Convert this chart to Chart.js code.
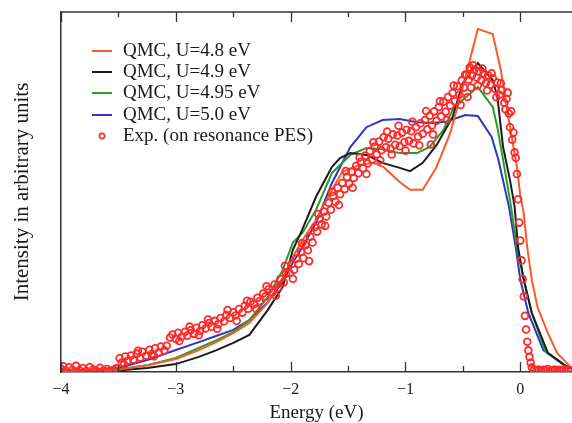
<!DOCTYPE html>
<html><head><meta charset="utf-8">
<script src="https://cdn.jsdelivr.net/npm/chart.js@4/dist/chart.umd.min.js"></script>
<style>html,body{margin:0;padding:0;background:#fff;}canvas{display:block;}</style>
</head><body>
<canvas id="c" width="572" height="423"></canvas>
<script>
// ---- data (energy in eV, intensity in arbitrary units) ----
const seriesLabels = ['QMC, U=4.8 eV','QMC, U=4.9 eV','QMC, U=4.95 eV','QMC, U=5.0 eV','Exp. (on resonance PES)'];
const xTickValues = [-4,-3,-2,-1,0];
const xMinorTicks = [-4,-3.5,-3,-2.5,-2,-1.5,-1,-0.5,0];

const u48Energy = [-4.0,-3.5,-3.25,-3.0,-2.8,-2.65,-2.5,-2.36,-2.2,-2.07,-1.98,-1.9,-1.78,-1.64,-1.55,-1.40,-1.28,-1.19,-1.05,-0.96,-0.85,-0.73,-0.61,-0.5,-0.37,-0.24,-0.17,-0.10,-0.03,0.0,0.03,0.06,0.10,0.15,0.24,0.32,0.45];
const u48Int    = [0.3,0.6,1.9,3.6,6.1,8.3,10.8,13.6,19.2,26.1,32,36.5,42.2,50.6,55.6,57.5,58.1,56.9,52.8,50.6,50.6,56.9,66.4,79.2,95.3,93.9,83.9,70,57,49,44,34.7,25.6,18,10.8,5.3,1.0];

const u49Energy = [-4.0,-3.5,-3.25,-3.0,-2.8,-2.65,-2.5,-2.36,-2.2,-2.07,-1.98,-1.9,-1.78,-1.64,-1.57,-1.48,-1.34,-1.2,-1.05,-0.96,-0.85,-0.73,-0.59,-0.5,-0.37,-0.24,-0.2,-0.15,-0.09,-0.05,-0.02,0.03,0.10,0.24,0.41,0.45];
const u49Int    = [0.3,0.4,1.1,2.2,4.2,6.0,8.1,10.3,17.2,23.6,34,39.5,48.6,57,59.4,60.8,60.3,58.1,56.7,55.8,58.1,63,70.8,80.3,85.8,81.1,76.4,62.5,53.3,46,34.7,25.6,16.4,5.3,1.4,1.0];

const u495Energy = [-4.0,-3.5,-3.25,-3.0,-2.8,-2.65,-2.5,-2.36,-2.2,-2.07,-1.98,-1.9,-1.78,-1.64,-1.48,-1.34,-1.2,-1.05,-0.9,-0.79,-0.67,-0.59,-0.5,-0.37,-0.24,-0.2,-0.15,-0.09,-0.03,0.03,0.10,0.22,0.41,0.45];
const u495Int    = [0.3,0.8,1.9,3.9,6.7,8.8,11.1,14.4,20.8,28.3,36,38.5,45,55.3,60.3,62.2,61.9,60.8,60.8,62.5,67.2,72.8,75.6,79.2,73.6,68,58.9,47.8,34.7,25.6,16.4,5.6,1.4,1.0];

const u50Energy = [-4.0,-3.5,-3.25,-3.0,-2.8,-2.65,-2.5,-2.36,-2.2,-2.07,-1.98,-1.9,-1.78,-1.64,-1.48,-1.34,-1.2,-1.05,-0.9,-0.76,-0.64,-0.48,-0.37,-0.25,-0.19,-0.1,-0.04,0.0,0.07,0.2,0.38,0.45];
const u50Int    = [0.3,1.1,3.3,6.1,8.3,10.0,11.7,14.4,19.4,25,30.5,34.5,41.4,52.5,62.5,68,70,70.3,69.4,69.2,69.6,71.4,71.1,65.3,58.9,46,34.7,25.6,16.4,6.1,1.9,1.2];

const expEnergy = [
-4.00,-3.98,-3.96,-3.93,-3.90,-3.87,-3.84,-3.81,-3.78,-3.75,-3.72,-3.69,-3.66,-3.63,-3.60,-3.57,-3.54,-3.52,
-3.49,-3.47,-3.44,-3.42,-3.39,-3.37,-3.34,-3.31,-3.29,-3.26,-3.23,-3.21,-3.18,-3.15,-3.13,-3.10,-3.08,
-3.05,-3.03,-3.00,-2.98,-2.95,-2.92,-2.90,-2.87,-2.84,-2.82,-2.79,-2.77,-2.74,-2.71,-2.69,-2.66,-2.63,-2.61,-2.58,-2.56,-2.53,-2.50,-2.48,-2.45,-2.42,-2.40,-2.37,-2.35,-2.32,-2.29,-2.27,-2.24,-2.22,-2.19,-2.16,-2.14,-2.11,-2.09,-2.06,-2.04,
-2.01,-1.99,-1.97,-1.95,-1.93,-1.91,-1.89,-1.87,-1.85,-1.83,-1.81,-1.79,
-1.77,-1.75,-1.73,-1.71,-1.69,-1.67,-1.65,-1.63,-1.61,-1.59,-1.57,-1.55,-1.53,-1.51,-1.49,-1.47,-1.45,-1.43,-1.41,-1.39,-1.37,-1.35,-1.33,-1.31,-1.29,-1.27,-1.25,-1.23,-1.21,-1.19,-1.17,-1.15,-1.13,-1.11,-1.09,-1.07,-1.05,-1.03,-1.01,-0.99,-0.97,-0.95,-0.93,-0.91,-0.89,-0.87,-0.85,-0.83,-0.81,-0.79,-0.78,-0.77,-0.75,-0.73,-0.71,-0.69,-0.67,-0.65,-0.63,
-0.61,-0.59,-0.57,-0.55,-0.53,-0.51,-0.49,-0.47,-0.46,-0.45,-0.44,-0.42,-0.40,-0.38,-0.36,-0.34,-0.32,-0.30,-0.28,-0.26,-0.24,-0.22,-0.20,-0.18,-0.16,-0.14,-0.12,-0.10,-0.08,-0.07,-0.05,-0.04,-0.03,-0.02,-0.01,
0.00,0.01,0.02,0.03,0.04,0.05,0.06,0.07,0.08,0.09,0.10,0.12,0.14,0.16,0.18,0.20,0.22,0.24,0.26,0.28,0.30,0.32,0.34,0.36,0.38,0.40,0.42,0.44,
-3.45,-3.33,-3.19,-2.97,-2.88,-2.80,-2.72,-2.64,-2.55,-2.47,-2.38,-2.30,-2.21,-2.13,-2.05,-1.98,-1.90,-1.84,-1.76,-1.70,-1.64,-1.58,-1.52,-1.46,-1.40,-1.34,-1.28,-1.22,-1.16,-1.12,-1.06,-1.00,-0.94,-0.88,-0.82,-0.76,-0.70,-0.64,-0.58,-0.52,-0.48,-0.43,-0.41,-0.37,-0.33,-0.29,-0.25,-0.21,-0.17,-0.13,-0.11,-0.09,-0.06];
const expInt = [
0.9,1.6,0.4,1.3,0.6,1.7,0.5,1.1,0.3,1.4,0.7,0.3,1.2,0.4,0.8,0.3,0.6,1.0,
3.8,2.6,4.3,3.1,4.6,3.4,5.1,4.0,5.6,4.5,6.2,5.0,6.6,5.4,7.1,6.0,7.3,
9.6,10.4,9.2,10.9,9.8,11.2,10.1,11.6,10.6,12.3,11.4,13.0,12.1,13.6,12.6,14.2,13.3,15.0,14.1,15.8,15.0,16.6,15.7,17.5,16.5,18.4,17.6,19.5,18.8,20.6,19.7,21.8,21.0,23.0,22.1,24.3,23.4,25.8,24.9,27.3,
27.5,30.0,28.4,31.5,30.0,33.4,31.6,35.3,33.8,37.6,36.0,40.2,
39.0,42.5,41.0,44.6,43.2,47.0,45.1,48.9,47.3,51.2,49.4,52.5,50.8,54.2,52.3,55.6,53.9,57.3,55.2,58.4,56.6,60.1,57.9,61.4,59.0,62.6,60.5,64.0,61.6,65.2,62.4,64.8,62.0,66.0,63.1,65.7,62.7,66.5,63.8,67.3,64.2,66.9,63.5,68.0,65.4,69.1,66.2,70.0,67.4,71.2,63.2,68.5,72.4,69.8,73.6,71.0,75.1,72.3,76.4,
74.0,77.5,75.2,79.4,77.0,81.0,79.0,82.6,76.4,81.2,84.6,82.4,84.0,81.8,83.5,81.0,83.0,80.2,82.4,79.8,81.6,78.6,80.4,77.0,78.3,74.8,75.9,71.8,72.4,64.5,61.0,59.5,55.0,48.0,41.5,
36.5,31.0,25.8,21.0,15.6,11.8,8.4,6.0,4.2,2.6,1.3,0.6,0.4,0.7,0.3,0.6,0.4,0.8,0.3,0.5,0.7,0.3,0.6,0.4,0.7,0.3,0.5,0.4,
2.1,5.9,4.4,8.6,12.6,10.2,14.6,12.0,17.2,14.2,19.8,17.6,23.8,21.2,29.5,25.9,35.8,30.8,43.9,40.6,50.0,46.4,55.8,51.2,59.6,55.0,63.8,58.8,66.8,60.4,68.4,61.5,69.5,63.0,72.5,66.0,75.2,70.0,79.6,74.2,82.6,79.0,85.2,79.6,84.3,78.2,83.0,76.3,80.2,73.0,77.6,68.0,66.5];

const lineColors = ['#fa5a28','#1c1c1c','#2b9b2b','#2a38c2'];
const expColor = '#ff2a2a';

function pts(xs, ys){ return xs.map((v,i)=>({x:v, y:ys[i]})); }

const serif = '"Liberation Serif","Times New Roman",serif';

const framePlugin = {
  id:'frame',
  afterDraw(chart){
    const {ctx, chartArea:a, scales:{x}} = chart;
    ctx.save();
    ctx.strokeStyle = '#333';
    ctx.lineWidth = 1.5;
    ctx.beginPath(); ctx.moveTo(a.left, a.top); ctx.lineTo(a.right, a.top); ctx.stroke();
    ctx.lineWidth = 1.3;
    xMinorTicks.forEach(v=>{
      const px = Math.round(x.getPixelForValue(v))+0.5;
      const major = Number.isInteger(v);
      ctx.beginPath();
      ctx.moveTo(px, a.top); ctx.lineTo(px, a.top + (major?10:5));
      ctx.moveTo(px, a.bottom); ctx.lineTo(px, a.bottom - (major?10:6));
      ctx.stroke();
    });
    // legend
    const ds = chart.data.datasets;
    const rowY = [50,71,92,114,135];
    ctx.font = '19px ' + serif;
    ctx.textBaseline = 'middle';
    ctx.fillStyle = '#1a1a1a';
    ds.forEach((d,i)=>{
      const y = rowY[i];
      if (d.showLine === false) {
        ctx.strokeStyle = d.borderColor; ctx.lineWidth = 1.6;
        ctx.beginPath(); ctx.arc(102, y+1, 2.6, 0, Math.PI*2); ctx.stroke();
      } else {
        ctx.strokeStyle = d.borderColor; ctx.lineWidth = 2;
        ctx.beginPath(); ctx.moveTo(92, y+1); ctx.lineTo(112, y+1); ctx.stroke();
      }
      ctx.fillText(d.label, 123, y+1);
    });
    ctx.restore();
  }
};

const lineDs = (i, xs, ys) => ({
  label: seriesLabels[i], data: pts(xs, ys), showLine: true,
  borderColor: lineColors[i], backgroundColor: lineColors[i],
  borderWidth: 2, pointRadius: 0, tension: 0, order: 1
});

new Chart(document.getElementById('c'), {
  type: 'scatter',
  data: { datasets: [
    lineDs(0, u48Energy, u48Int),
    lineDs(1, u49Energy, u49Int),
    lineDs(2, u495Energy, u495Int),
    lineDs(3, u50Energy, u50Int),
    { label: seriesLabels[4], data: pts(expEnergy, expInt), showLine: false,
      borderColor: expColor, backgroundColor: 'rgba(0,0,0,0)', pointRadius: 3.4,
      pointBorderWidth: 1.8, pointStyle: 'circle', order: 0 }
  ]},
  options: {
    responsive: false, animation: false,
    layout: { autoPadding: false, padding: { top: 12, right: 0, left: 0, bottom: 0 } },
    plugins: { legend: { display: false }, tooltip: { enabled: false } },
    scales: {
      x: {
        type: 'linear', min: -4, max: 0.45,
        afterBuildTicks: s => { s.ticks = xTickValues.map(v=>({value:v})); },
        afterFit: s => { s.height = 51; },
        grid: { display: false, drawTicks: false },
        border: { display: true, color: '#333', width: 1.5 },
        ticks: { color: '#1a1a1a', font: { family: serif, size: 16 }, padding: 8,
                 callback: v => (v < 0 ? '\u2212' + Math.abs(v) : String(v)) },
        title: { display: true, text: 'Energy (eV)', color: '#1a1a1a',
                 font: { family: serif, size: 19 }, padding: { top: 0, bottom: -1 } }
      },
      y: {
        type: 'linear', min: 0, max: 100,
        afterFit: s => { s.width = 61; },
        grid: { display: false, drawTicks: false },
        border: { display: true, color: '#333', width: 1.5 },
        ticks: { display: false },
        title: { display: true, text: 'Intensity in arbitrary units', color: '#1a1a1a',
                 font: { family: serif, size: 21 }, padding: { top: 10, bottom: 0 } }
      }
    }
  },
  plugins: [framePlugin]
});
</script>
</body></html>
